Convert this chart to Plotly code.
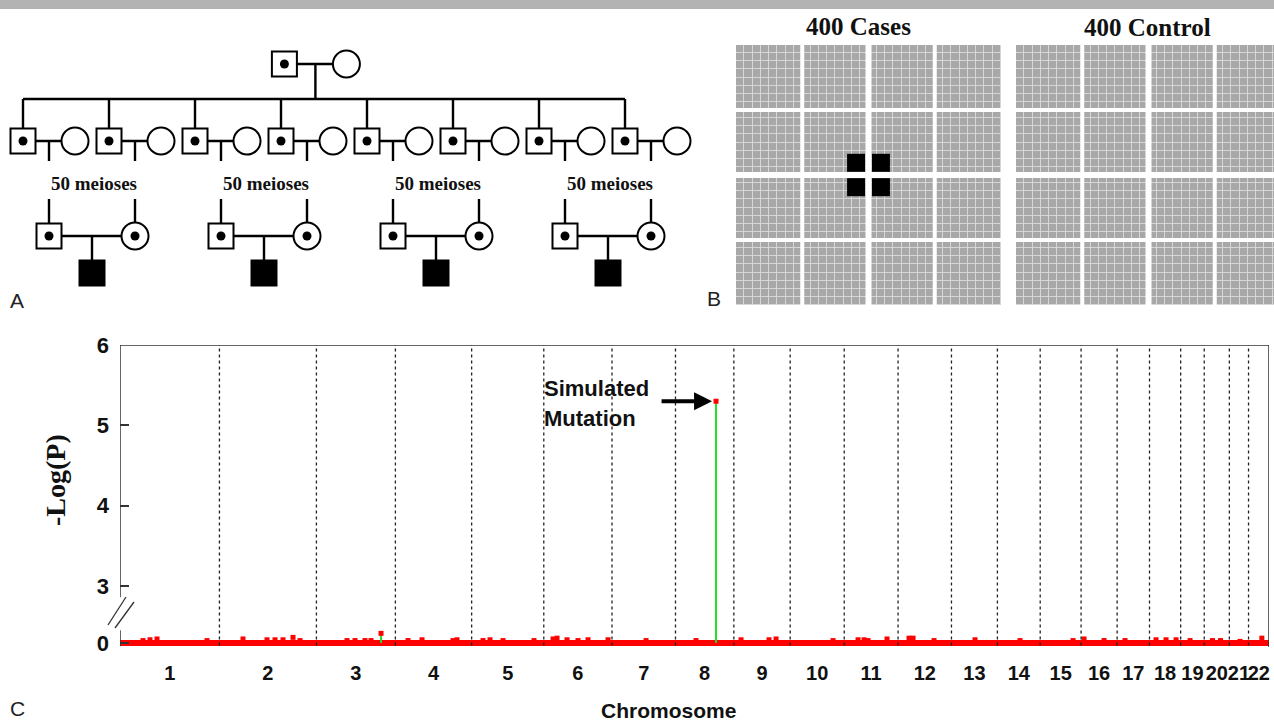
import plotly.graph_objects as go

W, H = 1274, 722

# ---------------- DATA ----------------
# Panel C : genome scan
chrom_names = [str(i) for i in range(1, 23)]
chrom_len_mb = [249.3, 243.2, 198.0, 191.2, 180.9, 171.1, 159.1, 146.4, 141.2, 135.5, 135.0,
                133.9, 115.2, 107.3, 102.5, 90.4, 81.2, 78.1, 59.1, 63.0, 48.1, 51.3]

# small background signals (-log P)
bump_chr = [1, 1, 1, 1, 2, 2, 2, 2, 2, 2, 3, 3, 3, 3, 4, 4, 4, 4, 5, 5, 5, 5, 6, 6, 6, 6, 6, 6,
            7, 8, 9, 9, 9, 10, 11, 11, 11, 11, 12, 12, 12, 13, 14, 15, 16, 16, 17, 18, 18, 18,
            19, 20, 20, 21, 22]
bump_pos = [57.7, 75.2, 92.8, 218.2, 59.1, 119.3, 139.4, 159.4, 184.5, 202.1, 76.7, 96.8, 121.8,
            136.9, 31.7, 66.8, 144.5, 154.5, 28.5, 46.1, 78.7, 156.4, 23.2, 33.2, 58.3, 85.8,
            110.9, 161.1, 85.3, 51.5, 18.0, 88.2, 105.8, 107.5, 34.7, 49.7, 59.7, 107.4, 27.5,
            37.6, 90.2, 59.1, 56.8, 82.4, 7.5, 57.6, 19.8, 16.4, 41.5, 66.6, 23.6, 20.6, 40.7,
            26.8, 33.4]
bump_val = [0.03, 0.04, 0.05, 0.03, 0.05, 0.04, 0.04, 0.04, 0.07, 0.03, 0.03, 0.03, 0.03, 0.03,
            0.03, 0.04, 0.03, 0.04, 0.03, 0.04, 0.03, 0.03, 0.05, 0.06, 0.04, 0.03, 0.04, 0.04,
            0.03, 0.03, 0.04, 0.04, 0.05, 0.03, 0.04, 0.04, 0.03, 0.05, 0.06, 0.06, 0.03, 0.04,
            0.03, 0.03, 0.05, 0.03, 0.03, 0.04, 0.04, 0.04, 0.03, 0.03, 0.03, 0.02, 0.06]

# highlighted markers (green stem, red head)
hl_chr = [3, 8]
hl_pos = [162.0, 101.7]
hl_val = [0.12, 5.3]

y_ticks = [0, 3, 4, 5, 6]

# Panel A : pedigree
n_families = 4
couples_per_family = 2
meioses = 50

# Panel B : case / control grids
n_cases = 400
n_controls = 400
grid_blocks = 4
cells_per_block = 8
affected_cells = [(14, 14), (17, 14), (14, 17), (17, 17)]

# ---------------- HELPERS ----------------
ZERO_D = 2.29          # display position of 0 below the axis break


def disp(v):
    return v if v >= 3 else ZERO_D + v


offsets = []
acc = 0.0
for L in chrom_len_mb:
    offsets.append(acc)
    acc += L
total_len = acc
centers = [o + L / 2 for o, L in zip(offsets, chrom_len_mb)]


def cum(c, p):
    return offsets[c - 1] + p


def px(xp):
    return xp / W


def py(yp):
    return 1 - yp / H


SANS = "Liberation Sans, Arial"
SERIF = "Liberation Serif, Times New Roman"
RED = "#ff0000"
GREEN = "#22dd22"

fig = go.Figure()

# ---------------- PANEL C ----------------
fig.add_trace(go.Scatter(x=[0, total_len], y=[disp(0), disp(0)], mode="lines",
                         line=dict(color=RED, width=6), xaxis="x", yaxis="y", hoverinfo="skip"))
fig.add_trace(go.Scatter(x=[cum(c, p) for c, p in zip(bump_chr, bump_pos)],
                         y=[disp(v) for v in bump_val], mode="markers",
                         marker=dict(symbol="square", size=5, color=RED),
                         xaxis="x", yaxis="y", hoverinfo="skip"))
stem_x, stem_y = [], []
for c, p, v in zip(hl_chr, hl_pos, hl_val):
    stem_x += [cum(c, p), cum(c, p), None]
    stem_y += [disp(0), disp(v), None]
fig.add_trace(go.Scatter(x=stem_x, y=stem_y, mode="lines", line=dict(color=GREEN, width=2),
                         xaxis="x", yaxis="y", hoverinfo="skip"))
fig.add_trace(go.Scatter(x=[cum(c, p) for c, p in zip(hl_chr, hl_pos)],
                         y=[disp(v) for v in hl_val], mode="markers",
                         marker=dict(symbol="square", size=5, color=RED),
                         xaxis="x", yaxis="y", hoverinfo="skip"))

shapes = []
# grey bar at top
shapes.append(dict(type="rect", xref="paper", yref="paper", x0=0, x1=1, y0=py(9), y1=1,
                   fillcolor="#b3b3b3", line=dict(width=0)))
# chromosome boundaries
for o in offsets[1:]:
    shapes.append(dict(type="line", xref="x", yref="y domain", x0=o, x1=o, y0=0.005, y1=1,
                       line=dict(color="#222", width=1.3, dash="3px,3px")))
# frame: top and right
shapes.append(dict(type="line", xref="x", yref="y", x0=0, x1=total_len, y0=6, y1=6,
                   line=dict(color="#333", width=1.5)))
shapes.append(dict(type="line", xref="x", yref="y domain", x0=total_len, x1=total_len, y0=0, y1=1,
                   line=dict(color="#333", width=1.5)))
# broken left axis
shapes.append(dict(type="line", xref="x", yref="y", x0=0, x1=0, y0=2.86, y1=6,
                   line=dict(color="#333", width=1.5)))
shapes.append(dict(type="line", xref="x", yref="y", x0=0, x1=0, y0=2.25, y1=2.45,
                   line=dict(color="#333", width=1.5)))
# break marks
shapes.append(dict(type="line", xref="paper", yref="paper", x0=px(108), y0=py(625), x1=px(126),
                   y1=py(597), line=dict(color="#333", width=1.3)))
shapes.append(dict(type="line", xref="paper", yref="paper", x0=px(115), y0=py(628), x1=px(134),
                   y1=py(602), line=dict(color="#333", width=1.3)))

annotations = []
spike_i = hl_val.index(max(hl_val))
annotations.append(dict(x=cum(hl_chr[spike_i], hl_pos[spike_i]), y=disp(hl_val[spike_i]),
                        xref="x", yref="y", ax=-56, ay=0, text="", showarrow=True,
                        arrowhead=2, arrowsize=0.9, arrowwidth=4, arrowcolor="black", standoff=4))
annotations.append(dict(x=px(542), y=py(388), xref="paper", yref="paper", xanchor="left",
                        yanchor="middle", text="<b>Simulated</b>", showarrow=False,
                        font=dict(family=SANS, size=22, color="#111")))
annotations.append(dict(x=px(542), y=py(418), xref="paper", yref="paper", xanchor="left",
                        yanchor="middle", text="<b>Mutation</b>", showarrow=False,
                        font=dict(family=SANS, size=22, color="#111")))
annotations.append(dict(x=px(668), y=py(710), xref="paper", yref="paper", xanchor="center",
                        yanchor="middle", text="<b>Chromosome</b>", showarrow=False,
                        font=dict(family=SANS, size=21, color="#111")))
annotations.append(dict(x=px(55), y=py(480), xref="paper", yref="paper", xanchor="center",
                        yanchor="middle", text="<b>-Log(P)</b>", textangle=-90, showarrow=False,
                        font=dict(family=SERIF, size=28, color="#111")))
for lab, xx, yy in [("A", 17, 300), ("B", 714, 298), ("C", 17, 708)]:
    annotations.append(dict(x=px(xx), y=py(yy), xref="paper", yref="paper", xanchor="center",
                            yanchor="middle", text=lab, showarrow=False,
                            font=dict(family=SANS, size=21, color="#222")))

# ---------------- PANEL A : pedigree ----------------
X0, DX, SPOUSE_DX = 23, 86, 52
Y_F, Y_SIB, Y_G2, Y_DROP_END, Y_TEXT, Y_RESUME, Y_G3, Y_CHILD = 64, 99, 141, 161, 183, 199, 236, 273

n_gen2 = n_families * couples_per_family
g2_sq = [X0 + DX * i for i in range(n_gen2)]
g2_ci = [x + SPOUSE_DX for x in g2_sq]
g2_mid = [x + SPOUSE_DX / 2 for x in g2_sq]
f_mid = X0 + DX * 3.4
f_sq, f_ci = f_mid - 31, f_mid + 31

lx, ly = [], []


def seg(x0, y0, x1, y1):
    lx.extend([x0, x1, None])
    ly.extend([y0, y1, None])


seg(f_sq, Y_F, f_ci, Y_F)
seg(f_mid, Y_F, f_mid, Y_SIB)
seg(g2_sq[0], Y_SIB, g2_sq[-1], Y_SIB)
for s, c, m in zip(g2_sq, g2_ci, g2_mid):
    seg(s, Y_SIB, s, Y_G2)
    seg(s, Y_G2, c, Y_G2)
    seg(m, Y_G2, m, Y_DROP_END)
    seg(m, Y_RESUME, m, Y_G3)

g3_sq, g3_ci, g3_child = [], [], []
for f in range(n_families):
    a = g2_mid[f * couples_per_family]
    b = g2_mid[f * couples_per_family + 1]
    g3_sq.append(a)
    g3_ci.append(b)
    g3_child.append((a + b) / 2)
    seg(a, Y_G3, b, Y_G3)
    seg((a + b) / 2, Y_G3, (a + b) / 2, Y_CHILD)
    annotations.append(dict(x=(a + b) / 2 + 2, y=Y_TEXT, xref="x2", yref="y2", showarrow=False,
                            yanchor="middle",
                            text=f"<b>{meioses} meioses</b>",
                            font=dict(family=SERIF, size=19, color="#111")))

fig.add_trace(go.Scatter(x=lx, y=ly, mode="lines", line=dict(color="black", width=2.4),
                         xaxis="x2", yaxis="y2", hoverinfo="skip"))
sq_x = [f_sq] + g2_sq + g3_sq
sq_y = [Y_F] + [Y_G2] * n_gen2 + [Y_G3] * n_families
ci_x = [f_ci] + g2_ci + g3_ci
ci_y = [Y_F] + [Y_G2] * n_gen2 + [Y_G3] * n_families
fig.add_trace(go.Scatter(x=sq_x, y=sq_y, mode="markers", xaxis="x2", yaxis="y2", hoverinfo="skip",
                         marker=dict(symbol="square", size=25, color="white",
                                     line=dict(color="black", width=2))))
fig.add_trace(go.Scatter(x=ci_x, y=ci_y, mode="markers", xaxis="x2", yaxis="y2", hoverinfo="skip",
                         marker=dict(symbol="circle", size=27, color="white",
                                     line=dict(color="black", width=2))))
dot_x = sq_x + g3_ci
dot_y = sq_y + [Y_G3] * n_families
fig.add_trace(go.Scatter(x=dot_x, y=dot_y, mode="markers", xaxis="x2", yaxis="y2", hoverinfo="skip",
                         marker=dict(symbol="circle", size=9, color="black")))
fig.add_trace(go.Scatter(x=g3_child, y=[Y_CHILD] * n_families, mode="markers", xaxis="x2",
                         yaxis="y2", hoverinfo="skip",
                         marker=dict(symbol="square", size=27, color="black")))

# ---------------- PANEL B : grids ----------------
cells = grid_blocks * cells_per_block
z = [[1] * cells for _ in range(cells)]
for xa, ya in [("x3", "y3"), ("x4", "y4")]:
    fig.add_trace(go.Heatmap(z=z, xaxis=xa, yaxis=ya, colorscale=[[0, "#a8a8a8"], [1, "#a8a8a8"]],
                             showscale=False, xgap=1, ygap=1, hoverinfo="skip"))
    shapes.append(dict(type="rect", xref=xa, yref=ya, x0=-0.5, x1=cells - 0.5, y0=-0.5,
                       y1=cells - 0.5, fillcolor="#d6d6d6", line=dict(width=0), layer="below"))
    for b in range(1, grid_blocks):
        p = b * cells_per_block - 0.5
        w = 6 if b == grid_blocks // 2 else 4
        shapes.append(dict(type="line", xref=xa, yref=ya, x0=p, x1=p, y0=-0.5, y1=cells - 0.5,
                           line=dict(color="white", width=w)))
        shapes.append(dict(type="line", xref=xa, yref=ya, y0=p, y1=p, x0=-0.5, x1=cells - 0.5,
                           line=dict(color="white", width=w)))

fig.add_trace(go.Scatter(x=[c[0] for c in affected_cells], y=[c[1] for c in affected_cells],
                         mode="markers", xaxis="x3", yaxis="y3", hoverinfo="skip",
                         marker=dict(symbol="square", size=18, color="black")))

annotations.append(dict(x=px(858), y=py(27), xref="paper", yref="paper", showarrow=False,
                        xanchor="center", yanchor="middle",
                        text=f"<b>{n_cases} Cases</b>", font=dict(family=SERIF, size=25, color="#111")))
annotations.append(dict(x=px(1147), y=py(28), xref="paper", yref="paper", showarrow=False,
                        xanchor="center", yanchor="middle",
                        text=f"<b>{n_controls} Control</b>",
                        font=dict(family=SERIF, size=25, color="#111")))

# ---------------- LAYOUT ----------------
hidden = dict(visible=False, showgrid=False, zeroline=False, fixedrange=True, automargin=False)
grid_visible_frac = 258 / 265
fig.update_layout(
    width=W, height=H, autosize=False, margin=dict(l=0, r=0, t=0, b=0, pad=0, autoexpand=False),
    paper_bgcolor="white", plot_bgcolor="white", showlegend=False,
    xaxis=dict(domain=[px(120), px(1269)], range=[0, total_len], showgrid=False, zeroline=False,
               showline=False, ticks="", tickvals=centers,
               ticktext=[f"<b>{n}</b>" for n in chrom_names], tickangle=0, automargin=False,
               tickfont=dict(family=SANS, size=20, color="#111"), ticklabelstandoff=12),
    yaxis=dict(domain=[py(647), py(345)], range=[2.24, 6], showgrid=False, zeroline=False,
               showline=False, ticks="inside", ticklen=9, tickwidth=1.5, tickcolor="#333",
               automargin=False,
               tickvals=[disp(v) for v in y_ticks], ticktext=[f"<b>{v}</b>" for v in y_ticks],
               tickfont=dict(family=SANS, size=22, color="#111"), ticklabelstandoff=10),
    xaxis2=dict(domain=[0, px(700)], range=[0, 700], **hidden),
    yaxis2=dict(domain=[py(320), 1], range=[320, 0], **hidden),
    xaxis3=dict(domain=[px(736), px(1001)], range=[-0.5, cells - 0.5], **hidden),
    yaxis3=dict(domain=[py(305), py(45)], range=[-0.5, cells - 0.5], **hidden),
    xaxis4=dict(domain=[px(1016), 1], range=[-0.5, -0.5 + cells * grid_visible_frac], **hidden),
    yaxis4=dict(domain=[py(305), py(45)], range=[-0.5, cells - 0.5], **hidden),
    shapes=shapes, annotations=annotations,
)

page_fix = ("document.body.style.margin='0';document.body.style.overflow='hidden';"
            "var d=document.getElementById('{plot_id}');d.style.position='fixed';"
            "d.style.left='0px';d.style.top='0px';")
fig.write_html("out.html", post_script=page_fix,
               config={"displayModeBar": False, "responsive": False})
